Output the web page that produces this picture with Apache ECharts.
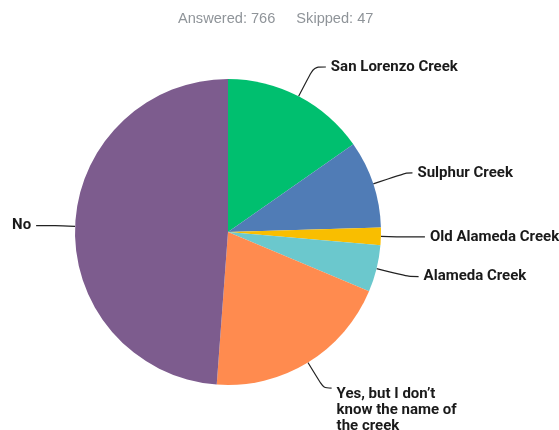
<!DOCTYPE html>
<html>
<head>
<meta charset="utf-8">
<script src="https://cdn.jsdelivr.net/npm/echarts@6/dist/echarts.min.js"></script>
<style>
html,body{margin:0;padding:0;background:#fff;}
#chart{width:559px;height:430px;}
</style>
</head>
<body>
<div id="chart"></div>
<script>
var categories = ['San Lorenzo Creek', 'Sulphur Creek', 'Old Alameda Creek', 'Alameda Creek', 'Yes, but I don\u2019t\nknow the name of\nthe creek', 'No'];
var values = [117, 71, 14, 38, 152, 374];
var colors = ['#00BF6F', '#507CB6', '#F9BE00', '#6BC8CD', '#FF8B4F', '#7D5C8E'];
var answered = 766;
var skipped = 47;

var lineCfg = [
  {length: 33, length2: 12},
  {length: 35, length2: 6},
  {length: 20, length2: 24},
  {length: 33, length2: 10},
  {length: 30, length2: 8},
  {length: 20, length2: 19}
];

var data = categories.map(function (c, i) {
  return {
    name: c,
    value: values[i],
    itemStyle: {color: colors[i]},
    labelLine: lineCfg[i]
  };
});

var chart = echarts.init(document.getElementById('chart'));
chart.setOption({
  animation: false,
  title: {
    text: '{a|Answered: ' + answered + '}{g|}{a|Skipped: ' + skipped + '}',
    left: 173,
    top: 5,
    textStyle: {
      rich: {
        a: {fontFamily: 'Liberation Sans, Arial, sans-serif', fontSize: 14.6, color: '#8f9499', fontWeight: 'normal'},
        g: {width: 21}
      }
    }
  },
  series: [{
    type: 'pie',
    center: [228, 232],
    radius: 153,
    startAngle: 90,
    clockwise: true,
    avoidLabelOverlap: false,
    data: data,
    label: {
      show: true,
      position: 'outside',
      alignTo: 'none',
      distanceToLabelLine: 5,
      fontFamily: 'Roboto, sans-serif',
      fontWeight: 'bold',
      fontSize: 15,
      lineHeight: 16,
      color: '#1a1a1a'
    },
    labelLine: {
      show: true,
      smooth: 0.3,
      lineStyle: {color: '#222', width: 1.2}
    },
    labelLayout: function (params) {
      if (params.dataIndex === 4) {
        return {dy: 22};
      }
      return {};
    },
    emphasis: {disabled: true}
  }]
});
</script>
</body>
</html>
